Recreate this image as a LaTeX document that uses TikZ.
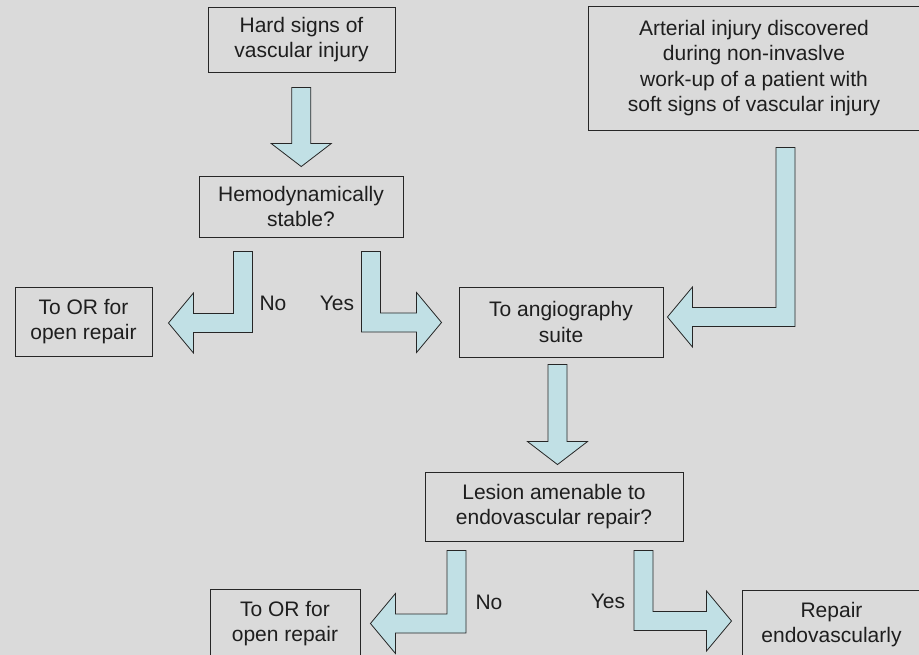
\documentclass[tikz,border=0pt]{standalone}
\usepackage{fontspec}
\setmainfont{Liberation Sans}
\usepackage{tikz}
\usetikzlibrary{calc}
\usepackage{xcolor}

\definecolor{bggray}{RGB}{218,218,218}
\definecolor{arrowblue}{RGB}{193,224,229}
\definecolor{inkgray}{RGB}{30,30,30}

\tikzset{
  box/.style={draw=black!85,line width=0.9pt,align=center,inner sep=0pt,
    text=inkgray,font=\fontsize{21}{25.5}\selectfont},
  lbl/.style={inner sep=0pt,text=inkgray,font=\fontsize{21}{25.5}\selectfont},
  blockarrow/.style={fill=arrowblue,draw=black!85,line width=0.8pt,line join=miter}
}

% straight block arrow between two stacked boxes
\newcommand{\blockdown}[4]{%
  \draw[blockarrow] let \p1=(#1.south), \p2=(#2.north), \n1={(\x1+\x2)/2} in
    ({\n1-9.5pt},\y1-#3pt) -- ({\n1+9.5pt},\y1-#3pt) -- ({\n1+9.5pt},\y2+#4pt+23pt)
    -- ({\n1+30pt},\y2+#4pt+23pt) -- (\n1,\y2+#4pt) -- ({\n1-30pt},\y2+#4pt+23pt)
    -- ({\n1-9.5pt},\y2+#4pt+23pt) -- cycle;}

% bent block arrow: shaft top, tip, side (1 right, -1 left)
\newcommand{\bendarrow}[3]{%
  \draw[blockarrow] let \p1=(#1), \p2=(#2) in
    ({\x1-(#3)*9.5pt},\y1) -- ({\x1+(#3)*9.5pt},\y1) -- ({\x1+(#3)*9.5pt},\y2+9.5pt)
    -- ({\x2-(#3)*25pt},\y2+9.5pt) -- ({\x2-(#3)*25pt},\y2+30pt) -- (\x2,\y2)
    -- ({\x2-(#3)*25pt},\y2-30pt) -- ({\x2-(#3)*25pt},\y2-9.5pt)
    -- ({\x1-(#3)*9.5pt},\y2-9.5pt) -- cycle;}

\begin{document}
\begin{tikzpicture}[x=1pt,y=-1pt]
\useasboundingbox (0,0) rectangle (919,655);
\fill[bggray] (0,0) rectangle (919,655);
\clip (0,0) rectangle (919,655);

% boxes
\node[box,minimum width=187pt,minimum height=65pt] (hard) at (301.5,39.5) {Hard signs of\\vascular injury};
\node[box,minimum width=204pt,minimum height=61pt] (hemo) at (301,206.5) {Hemodynamically\\stable?};
\node[box,minimum width=137pt,minimum height=69pt] (orA) at (83.5,321.5) {To OR for\\open repair};
\node[box,minimum width=332pt,minimum height=124pt] (art) at (754,68) {Arterial injury discovered\\during non-invaslve\\work-up of a patient with\\soft signs of vascular injury};
\node[box,minimum width=204pt,minimum height=70pt] (angio) at (561,322) {To angiography\\suite};
\node[box,minimum width=258pt,minimum height=69pt] (lesion) at (554,506.5) {Lesion amenable to\\endovascular repair?};
\node[box,minimum width=150pt,minimum height=69pt] (orB) at (285,623.5) {To OR for\\open repair};
\node[box,minimum width=179pt,minimum height=69pt] (repair) at (831.5,624.5) {Repair\\endovascularly};

% arrows
\blockdown{hard}{hemo}{15}{9}
\blockdown{angio}{lesion}{7}{7}

\coordinate (noA) at ($(hemo.south)+(-58,14)$);
\coordinate (noAtip) at ($(orA.east)+(16,1.5)$);
\coordinate (yesA) at ($(hemo.south)+(70,14)$);
\coordinate (yesAtip) at ($(angio.west)+(-17,0.5)$);
\coordinate (artA) at ($(art.south)+(31.5,17)$);
\coordinate (artAtip) at ($(angio.east)+(4,-5)$);
\coordinate (noB) at ($(lesion.south)+(-97.5,9)$);
\coordinate (noBtip) at ($(orB.east)+(10,0)$);
\coordinate (yesB) at ($(lesion.south)+(89.5,9)$);
\coordinate (yesBtip) at ($(repair.west)+(-10,-3.5)$);

\bendarrow{noA}{noAtip}{-1}
\bendarrow{yesA}{yesAtip}{1}
\bendarrow{artA}{artAtip}{-1}
\bendarrow{noB}{noBtip}{-1}
\bendarrow{yesB}{yesBtip}{1}

% labels
\node[lbl] (noAl) at (273,303) {No};
\node[lbl] (yesAl) at (337,303) {Yes};
\node[lbl] (noBl) at (489,602) {No};
\node[lbl] (yesBl) at (608,601) {Yes};
\end{tikzpicture}
\end{document}
